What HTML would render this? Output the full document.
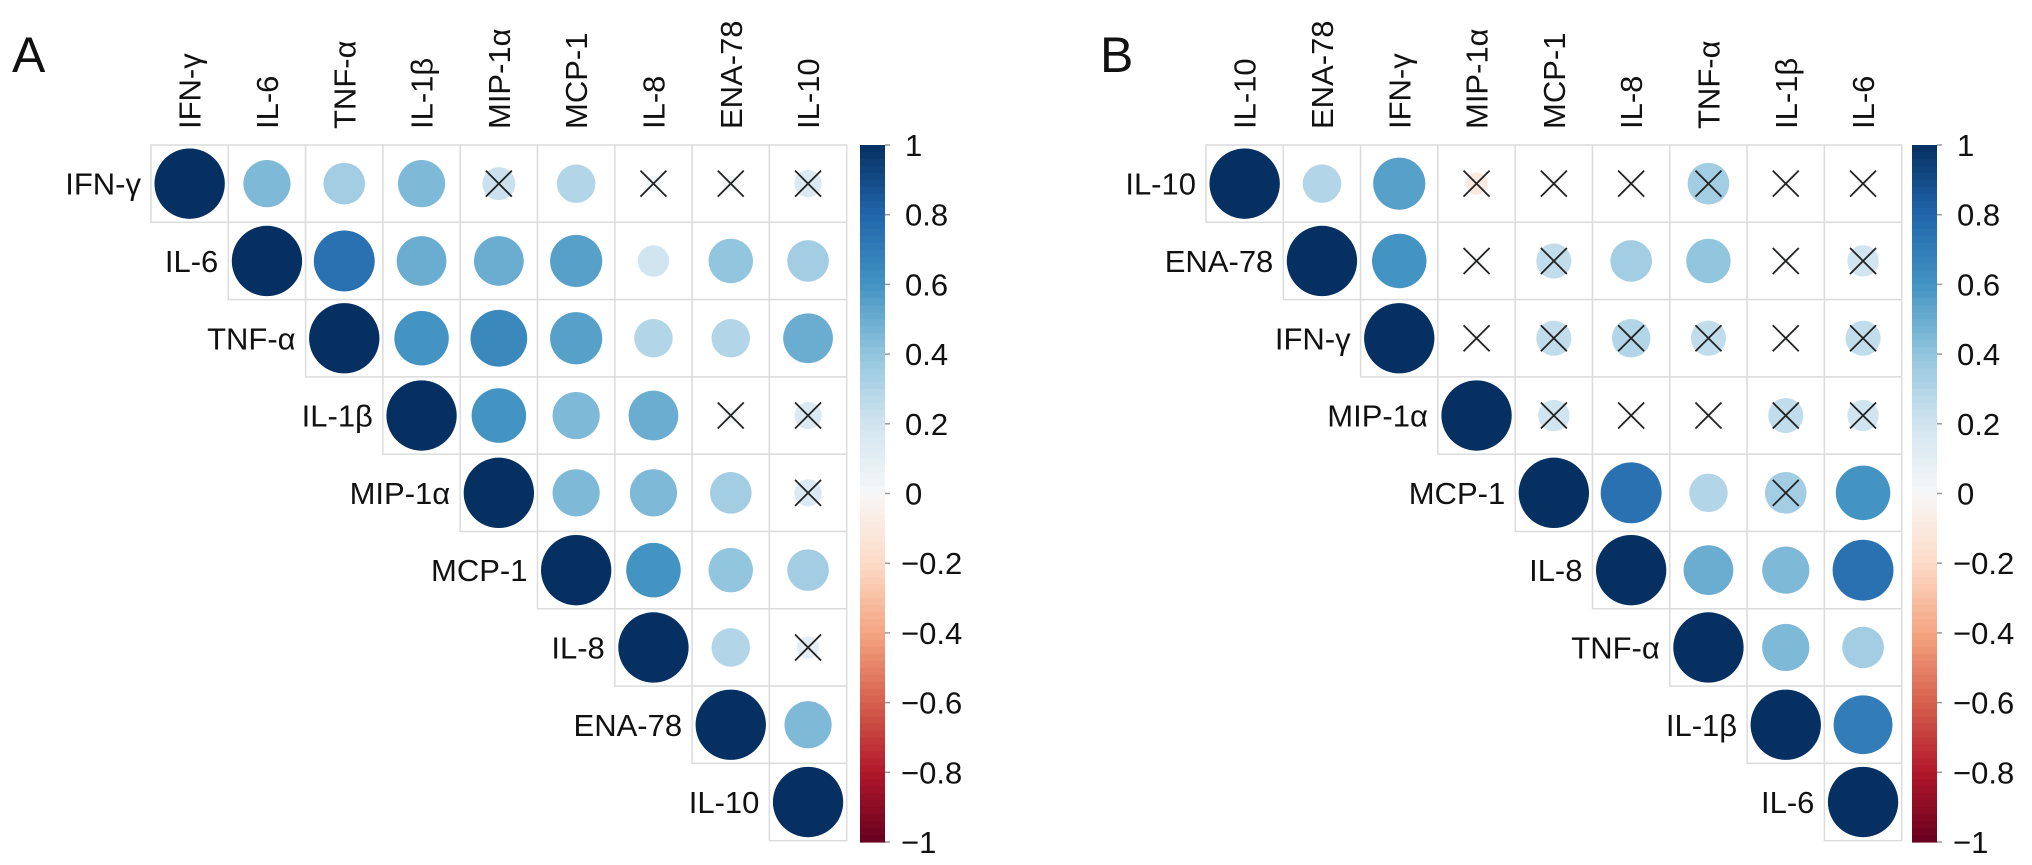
<!DOCTYPE html>
<html><head><meta charset="utf-8"><style>
html,body{margin:0;padding:0;background:#fff;}
svg{display:block;font-family:"Liberation Sans",sans-serif;}
</style></head><body>
<svg id="chart" width="2032" height="865" viewBox="0 0 2032 865"></svg>
<script>
const labelsA = ["IFN-γ","IL-6","TNF-α","IL-1β","MIP-1α","MCP-1","IL-8","ENA-78","IL-10"];
const valuesA = [
 [1,0.45,0.35,0.45,0.22,0.3,0.05,0.05,0.15],
 [null,1,0.75,0.5,0.5,0.55,0.2,0.4,0.35],
 [null,null,1,0.6,0.65,0.55,0.3,0.3,0.5],
 [null,null,null,1,0.6,0.45,0.5,0.05,0.15],
 [null,null,null,null,1,0.45,0.45,0.35,0.15],
 [null,null,null,null,null,1,0.6,0.4,0.35],
 [null,null,null,null,null,null,1,0.3,0.1],
 [null,null,null,null,null,null,null,1,0.45],
 [null,null,null,null,null,null,null,null,1]];
const nsA = [
 [0,0,0,0,1,0,1,1,1],[0,0,0,0,0,0,0,0,0],[0,0,0,0,0,0,0,0,0],
 [0,0,0,0,0,0,0,1,1],[0,0,0,0,0,0,0,0,1],[0,0,0,0,0,0,0,0,0],
 [0,0,0,0,0,0,0,0,1],[0,0,0,0,0,0,0,0,0],[0,0,0,0,0,0,0,0,0]];
const labelsB = ["IL-10","ENA-78","IFN-γ","MIP-1α","MCP-1","IL-8","TNF-α","IL-1β","IL-6"];
const valuesB = [
 [1,0.3,0.55,-0.1,0.02,0.02,0.35,0.02,0.02],
 [null,1,0.6,0.02,0.25,0.35,0.4,0.02,0.2],
 [null,null,1,0.02,0.25,0.3,0.25,0.02,0.25],
 [null,null,null,1,0.2,0.02,0.02,0.25,0.2],
 [null,null,null,null,1,0.75,0.3,0.35,0.6],
 [null,null,null,null,null,1,0.5,0.45,0.75],
 [null,null,null,null,null,null,1,0.45,0.35],
 [null,null,null,null,null,null,null,1,0.7],
 [null,null,null,null,null,null,null,null,1]];
const nsB = [
 [0,0,0,1,1,1,1,1,1],[0,0,0,1,1,0,0,1,1],[0,0,0,1,1,1,1,1,1],
 [0,0,0,0,1,1,1,1,1],[0,0,0,0,0,0,0,1,0],[0,0,0,0,0,0,0,0,0],
 [0,0,0,0,0,0,0,0,0],[0,0,0,0,0,0,0,0,0],[0,0,0,0,0,0,0,0,0]];
const ticks = [1,0.8,0.6,0.4,0.2,0,-0.2,-0.4,-0.6,-0.8,-1];
const tickLabels = ["1","0.8","0.6","0.4","0.2","0","−0.2","−0.4","−0.6","−0.8","−1"];

const NS='http://www.w3.org/2000/svg';
const svgEl=document.getElementById('chart');
function mk(t,a,p){const e=document.createElementNS(NS,t);for(const k in a)e.setAttribute(k,a[k]);(p||svgEl).appendChild(e);return e;}
const stops=[[-1,[103,0,31]],[-0.8,[178,24,43]],[-0.6,[214,96,77]],[-0.4,[244,165,130]],[-0.2,[253,219,199]],[0,[247,247,247]],[0.2,[209,229,240]],[0.4,[146,197,222]],[0.6,[67,147,195]],[0.8,[33,102,172]],[1,[5,48,97]]];
function color(v){v=Math.max(-1,Math.min(1,v));for(let i=0;i<stops.length-1;i++){const [a,ca]=stops[i],[b,cb]=stops[i+1];if(v<=b){const t=(v-a)/(b-a);return 'rgb('+ca.map((c,j)=>Math.round(c+(cb[j]-c)*t)).join(',')+')';}}return 'rgb(5,48,97)';}
const cell=77.3, gridTop=145;
function panel(x0,labels,vals,ns,letter,lx,cbx){
  const g=mk('g',{});
  
  
  const L=mk('text',{x:lx,y:72,'font-size':50,fill:'#111'},g);L.textContent=letter;
  
  
  const n=labels.length;
  const cx=j=>x0+(j+0.5)*cell, cy=i=>gridTop+(i+0.5)*cell;
  for(let j=0;j<n;j++){
    const t=mk('text',{x:0,y:0,'font-size':31,fill:'#111',transform:`translate(${cx(j)+11},${gridTop-16}) rotate(-90)`},g);
    t.textContent=labels[j];
    
    
  }
  for(let i=0;i<n;i++){
    const t=mk('text',{x:x0+i*cell-10,y:cy(i)+11,'font-size':31,fill:'#111','text-anchor':'end'},g);
    t.textContent=labels[i];
    
    
    for(let j=i;j<n;j++){
      const r=mk('rect',{x:x0+j*cell,y:gridTop+i*cell,width:cell,height:cell,fill:'#fff',stroke:'#dcdcdc','stroke-width':1.5},g);
      
      
      const v=vals[i][j];
      const c=mk('circle',{cx:cx(j),cy:cy(i),r:0.455*cell*Math.sqrt(Math.abs(v)),fill:color(v)},g);
      
      
      if(ns[i][j]){
        const h=13;
        const p=mk('path',{d:`M${cx(j)-h},${cy(i)-h}L${cx(j)+h},${cy(i)+h}M${cx(j)+h},${cy(i)-h}L${cx(j)-h},${cy(i)+h}`,stroke:'#222','stroke-width':1.8,fill:'none'},g);
        
        
      }
    }
  }
  const cbTop=145, cbBot=842, w=25;
  const yv=v=>cbTop+(1-v)/2*(cbBot-cbTop);
  const N=100;
  for(let k=0;k<N;k++){
    const v=1-2*(k+0.5)/N;
    const r=mk('rect',{x:cbx,y:cbTop+k*(cbBot-cbTop)/N,width:w,height:(cbBot-cbTop)/N+0.6,fill:color(v)},g);
    
    
  }
  ticks.forEach((v,k)=>{
    const l=mk('line',{x1:cbx+w,x2:cbx+w+5,y1:yv(v),y2:yv(v),stroke:'#999','stroke-width':1.5},g);
    
    
    const t=mk('text',{x:cbx+w+(v<0?16:20),y:yv(v)+11,'font-size':31,fill:'#111'},g);
    t.textContent=tickLabels[k];
    
    
  });
}
panel(151,labelsA,valuesA,nsA,'A',12,860);
panel(1206,labelsB,valuesB,nsB,'B',1100,1912);
</script>
</body></html>
